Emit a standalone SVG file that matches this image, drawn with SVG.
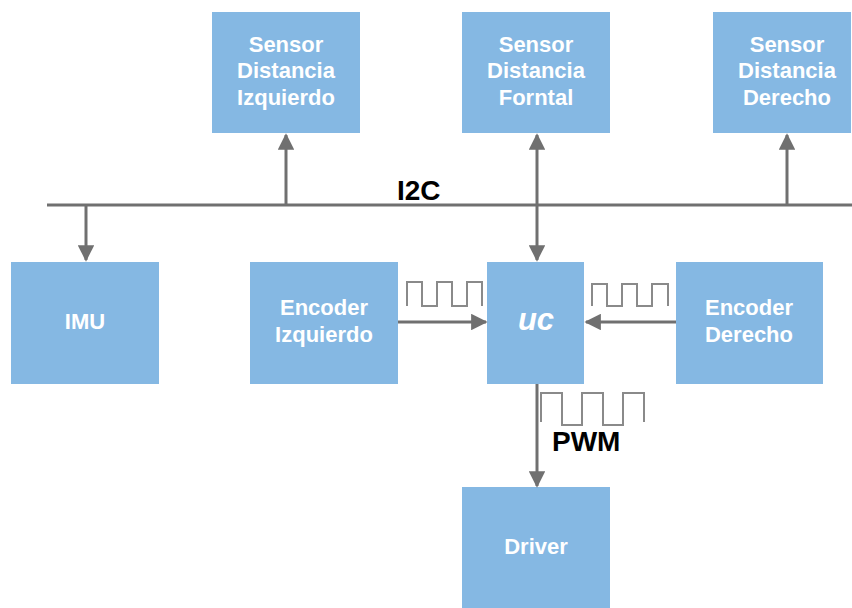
<svg xmlns="http://www.w3.org/2000/svg" width="852" height="608" viewBox="0 0 852 608">
  <style>
    .box { fill: #85b8e3; }
    .lbl { fill: #ffffff; font-family: "Liberation Sans", Arial, sans-serif; font-weight: bold; font-size: 22px; text-anchor: middle; }
    .big { font-size: 31px; font-style: italic; }
    .wire { stroke: #707070; stroke-width: 3; fill: none; }
    .wave { stroke: #8a8a8a; stroke-width: 2; fill: none; }
    .tag { fill: #000000; font-family: "Liberation Sans", Arial, sans-serif; font-weight: bold; font-size: 28px; }
  </style>
  <defs>
    <marker id="ah" viewBox="0 0 10 10" refX="9" refY="5" markerWidth="5.5" markerHeight="5.5" orient="auto-start-reverse" markerUnits="strokeWidth">
      <path d="M0,0 L10,5 L0,10 Z" fill="#707070"/>
    </marker>
  </defs>
  <rect width="852" height="608" fill="#ffffff"/>

  <g id="sensor-izq">
    <rect class="box" x="212" y="12" width="148" height="121"/>
    <text class="lbl" x="286" y="52">Sensor</text>
    <text class="lbl" x="286" y="78">Distancia</text>
    <text class="lbl" x="286" y="105">Izquierdo</text>
  </g>
  <g id="sensor-frontal">
    <rect class="box" x="462" y="12" width="148" height="121"/>
    <text class="lbl" x="536" y="52">Sensor</text>
    <text class="lbl" x="536" y="78">Distancia</text>
    <text class="lbl" x="536" y="105">Forntal</text>
  </g>
  <g id="sensor-der">
    <rect class="box" x="713" y="12" width="138" height="121"/>
    <text class="lbl" x="787" y="52">Sensor</text>
    <text class="lbl" x="787" y="78">Distancia</text>
    <text class="lbl" x="787" y="105">Derecho</text>
  </g>
  <g id="imu">
    <rect class="box" x="11" y="262" width="148" height="122"/>
    <text class="lbl" x="85" y="329">IMU</text>
  </g>
  <g id="encoder-izq">
    <rect class="box" x="250" y="262" width="148" height="122"/>
    <text class="lbl" x="324" y="315">Encoder</text>
    <text class="lbl" x="324" y="342">Izquierdo</text>
  </g>
  <g id="uc">
    <rect class="box" x="487" y="262" width="97" height="122"/>
    <text class="lbl big" x="536" y="330">uc</text>
  </g>
  <g id="encoder-der">
    <rect class="box" x="676" y="262" width="147" height="122"/>
    <text class="lbl" x="749" y="315">Encoder</text>
    <text class="lbl" x="749" y="342">Derecho</text>
  </g>
  <g id="driver">
    <rect class="box" x="462" y="487" width="148" height="121"/>
    <text class="lbl" x="536" y="554">Driver</text>
  </g>

  <g id="connectors">
    <!-- I2C bus -->
    <line class="wire" x1="47" y1="205" x2="852" y2="205"/>
    <line class="wire" x1="86" y1="205" x2="86" y2="260" marker-end="url(#ah)"/>
    <line class="wire" x1="286" y1="205" x2="286" y2="135" marker-end="url(#ah)"/>
    <line class="wire" x1="537" y1="135" x2="537" y2="260" marker-start="url(#ah)" marker-end="url(#ah)"/>
    <line class="wire" x1="787" y1="205" x2="787" y2="135" marker-end="url(#ah)"/>
    <!-- encoders to uc -->
    <line class="wire" x1="398" y1="322" x2="486" y2="322" marker-end="url(#ah)"/>
    <line class="wire" x1="676" y1="322" x2="586" y2="322" marker-end="url(#ah)"/>
    <!-- uc to driver -->
    <line class="wire" x1="537" y1="384" x2="537" y2="486" marker-end="url(#ah)"/>
  </g>

  <g id="signals">
    <polyline class="wave" points="407,306 407,282 422,282 422,306 437,306 437,282 452,282 452,306 467,306 467,282 482,282 482,306"/>
    <polyline class="wave" points="592,306 592,284 607,284 607,306 622,306 622,284 637,284 637,306 652,306 652,284 668,284 668,306"/>
    <polyline class="wave" points="541,422 541,393 562,393 562,425 582,425 582,393 603,393 603,425 623,425 623,393 644,393 644,422"/>
    <text class="tag" x="397" y="200">I2C</text>
    <text class="tag" x="552" y="451">PWM</text>
  </g>
</svg>
